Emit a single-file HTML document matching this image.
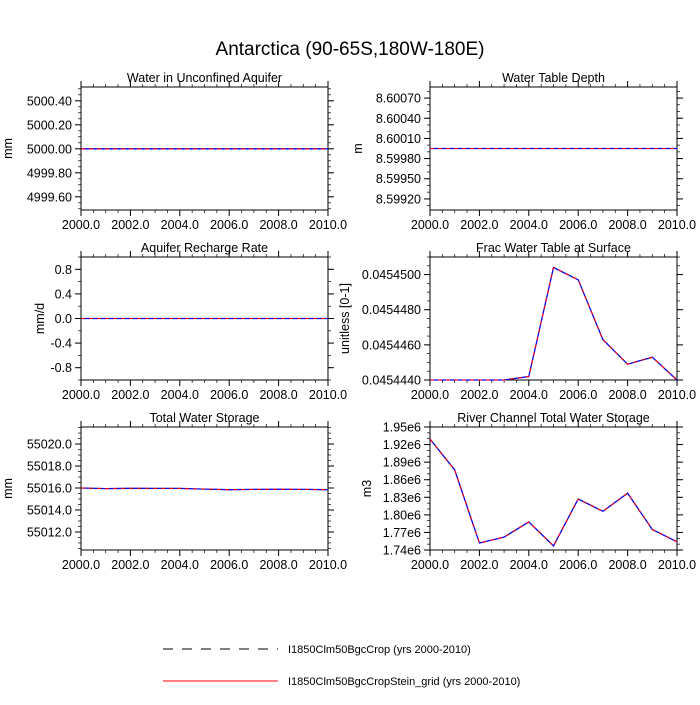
<!DOCTYPE html>
<html><head><meta charset="utf-8"><style>
body{margin:0;background:#fff}
svg text{font-family:"Liberation Sans",sans-serif;fill:#000}
</style></head><body>
<svg id="chart" width="700" height="700" xmlns="http://www.w3.org/2000/svg">
<text x="350" y="55" font-size="19" text-anchor="middle">Antarctica (90-65S,180W-180E)</text>
<g>
<line x1="163" y1="649" x2="278" y2="649" stroke="#000" stroke-width="1" stroke-dasharray="10,9"/>
<text x="288" y="653" font-size="11">I1850Clm50BgcCrop (yrs 2000-2010)</text>
<line x1="163" y1="681" x2="278" y2="681" stroke="#f00" stroke-width="1"/>
<text x="288" y="685" font-size="11">I1850Clm50BgcCropStein_grid (yrs 2000-2010)</text>
</g>
</svg>
<script>
const years=[2000,2001,2002,2003,2004,2005,2006,2007,2008,2009,2010];
const xTicks=[2000,2002,2004,2006,2008,2010];
const xTickLabels=["2000.0","2002.0","2004.0","2006.0","2008.0","2010.0"];
const aquiferVals=[5000,5000,5000,5000,5000,5000,5000,5000,5000,5000,5000];
const aquiferTicks=[5000.4,5000.2,5000.0,4999.8,4999.6];
const aquiferLabels=["5000.40","5000.20","5000.00","4999.80","4999.60"];
const wtdVals=[8.59995,8.59995,8.59995,8.59995,8.59995,8.59995,8.59995,8.59995,8.59995,8.59995,8.59995];
const wtdTicks=[8.6007,8.6004,8.6001,8.5998,8.5995,8.5992];
const wtdLabels=["8.60070","8.60040","8.60010","8.59980","8.59950","8.59920"];
const rechargeVals=[0,0,0,0,0,0,0,0,0,0,0];
const rechargeTicks=[0.8,0.4,0.0,-0.4,-0.8];
const rechargeLabels=["0.8","0.4","0.0","-0.4","-0.8"];
const fracVals=[0.045444,0.045444,0.045444,0.045444,0.0454442,0.0454504,0.0454497,0.0454463,0.0454449,0.0454453,0.045444];
const fracTicks=[0.04545,0.045448,0.045446,0.045444];
const fracLabels=["0.0454500","0.0454480","0.0454460","0.0454440"];
const twsVals=[55016.0,55015.95,55015.97,55015.96,55015.96,55015.9,55015.85,55015.87,55015.88,55015.87,55015.85];
const twsTicks=[55020,55018,55016,55014,55012];
const twsLabels=["55020.0","55018.0","55016.0","55014.0","55012.0"];
const riverVals=[1.9295e6,1.8766e6,1.752e6,1.762e6,1.788e6,1.747e6,1.827e6,1.806e6,1.837e6,1.775e6,1.754e6];
const riverTicks=[1.95e6,1.92e6,1.89e6,1.86e6,1.83e6,1.80e6,1.77e6,1.74e6];
const riverLabels=["1.95e6","1.92e6","1.89e6","1.86e6","1.83e6","1.80e6","1.77e6","1.74e6"];

const NS="http://www.w3.org/2000/svg";
const svg=document.getElementById('chart');
function mk(tag,attrs,parent){const e=document.createElementNS(NS,tag);for(const k in attrs)e.setAttribute(k,attrs[k]);parent.appendChild(e);return e;}

function panel(name,title,unit,unitOff,x0,y0,vals,ymin,ymax,ticks,labels,minorStep){
  const w=247,h=123;
  const g=mk('g',{},svg);
  
  
  const xs=v=>x0+(v-2000)/10*w;
  const ys=v=>y0+h-(v-ymin)/(ymax-ymin)*h;
  if(minorStep){
    const start=Math.ceil(ymin/minorStep);
    for(let i=start;i*minorStep<=ymax;i++){const yy=ys(i*minorStep);
      mk('line',{x1:x0-3,x2:x0,y1:yy,y2:yy,stroke:'#000','stroke-width':0.7},g);
      mk('line',{x1:x0+w,x2:x0+w+3,y1:yy,y2:yy,stroke:'#000','stroke-width':0.7},g);}
  }
  ticks.forEach((t,i)=>{const yy=ys(t);
    mk('line',{x1:x0-6,x2:x0,y1:yy,y2:yy,stroke:'#000','stroke-width':1},g);
    mk('line',{x1:x0+w,x2:x0+w+6,y1:yy,y2:yy,stroke:'#000','stroke-width':1},g);
    const tx=mk('text',{x:x0-9,y:yy+4.5,'font-size':12.5,'text-anchor':'end'},g);
    
    
    tx.textContent=labels[i];});
  for(let yv=2000;yv<=2010;yv+=0.5){const xx=xs(yv);const maj=(yv%2===0);const L=maj?6:3;
    mk('line',{x1:xx,x2:xx,y1:y0-L,y2:y0,stroke:'#000','stroke-width':maj?1:0.7},g);
    mk('line',{x1:xx,x2:xx,y1:y0+h,y2:y0+h+L,stroke:'#000','stroke-width':maj?1:0.7},g);}
  xTicks.forEach((t,i)=>{const tx=mk('text',{x:xs(t),y:y0+h+19,'font-size':12.5,'text-anchor':'middle'},g);
    
    
    tx.textContent=xTickLabels[i];});
  const box=mk('rect',{x:x0,y:y0,width:w,height:h,fill:'none',stroke:'#000','stroke-width':1},g);
  
  
  const tt=mk('text',{x:x0+w/2,y:y0-5,'font-size':12.5,'text-anchor':'middle'},g);
  
  
  tt.textContent=title;
  const ut=mk('text',{x:0,y:0,'font-size':12.5,'text-anchor':'middle',transform:`translate(${x0-unitOff},${y0+h/2}) rotate(-90)`},g);
  
  
  ut.textContent=unit;
  const pts=years.map((yr,i)=>xs(yr).toFixed(1)+','+ys(vals[i]).toFixed(1)).join(' ');
  const l1=mk('polyline',{points:pts,fill:'none',stroke:'#00f','stroke-width':1.3},g);
  
  
  const l2=mk('polyline',{points:pts,fill:'none',stroke:'#f00','stroke-width':1.1,'stroke-dasharray':'4,4'},g);
  
  
}
panel('aquifer','Water in Unconfined Aquifer','mm',69,81,87,aquiferVals,4999.49,5000.515,aquiferTicks,aquiferLabels,0.05);
panel('wtd','Water Table Depth','m',68,430,87,wtdVals,8.599035,8.600865,wtdTicks,wtdLabels,0.0001);
panel('recharge','Aquifer Recharge Rate','mm/d',37,81,257,rechargeVals,-1.0,1.0,rechargeTicks,rechargeLabels,0.2);
panel('frac','Frac Water Table at Surface','unitless [0-1]',81,430,257,fracVals,0.045444,0.045451,fracTicks,fracLabels,0.0000005);
panel('tws','Total Water Storage','mm',69,81,427,twsVals,55010.36,55021.55,twsTicks,twsLabels,0.5);
panel('river','River Channel Total Water Storage','m3',59,430,427,riverVals,1.74e6,1.95e6,riverTicks,riverLabels,0.01e6);
</script>
</body></html>
